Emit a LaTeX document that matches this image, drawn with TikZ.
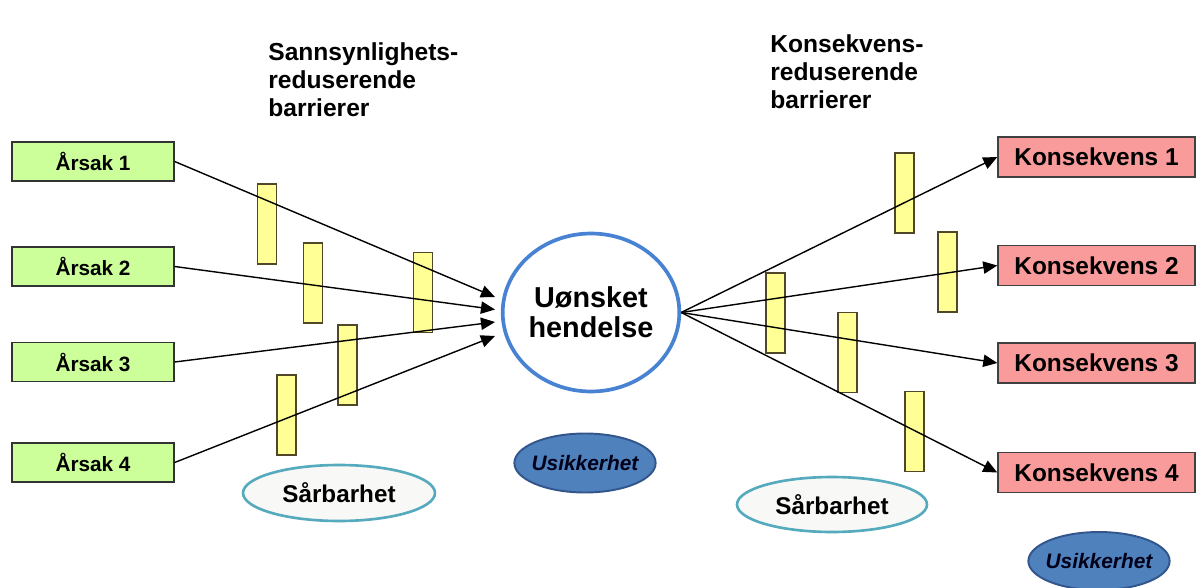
\documentclass[tikz,border=0pt]{standalone}
\usepackage{fontspec}
\setmainfont{Liberation Sans}
\usetikzlibrary{shapes.geometric, arrows.meta}
\definecolor{causeGreen}{RGB}{204,255,153}
\definecolor{effectRed}{RGB}{250,155,155}
\definecolor{barYellow}{RGB}{255,255,150}
\definecolor{barEdge}{RGB}{80,70,40}
\definecolor{eventBlue}{RGB}{72,130,210}
\definecolor{doubtBlue}{RGB}{79,129,189}
\definecolor{doubtEdge}{RGB}{50,85,140}
\definecolor{weakEdge}{RGB}{85,170,190}
\definecolor{weakFill}{RGB}{248,248,246}
\newcommand*{\barrier}[3]{\node[barrier] (#1) at (#2,#3) {};}% name, x, y (pixels from top left)
\newcommand*{\cause}[3]{\node[causebox] (#1) at (93,#2) {#3};}% name, y, text
\newcommand*{\effect}[3]{\node[effectbox] (#1) at (1096.5,#2) {#3};}% name, y, text

\begin{document}
\begin{tikzpicture}[x=0.02cm, y=-0.02cm,
    causebox/.style={draw=black!80, line width=0.8pt, fill=causeGreen, minimum width=3.24cm, minimum height=0.78cm, inner sep=0pt, font=\fontsize{11.8}{14}\selectfont\bfseries},
    effectbox/.style={draw=black!75, line width=0.8pt, fill=effectRed, minimum width=3.94cm, minimum height=0.8cm, inner sep=0pt, font=\fontsize{13.9}{16}\selectfont\bfseries},
    barrier/.style={draw=barEdge, line width=0.75pt, fill=barYellow, minimum width=0.38cm, minimum height=1.6cm, inner sep=0pt},
    weakness/.style={ellipse, draw=weakEdge, line width=1.5pt, fill=weakFill, inner sep=0pt, font=\fontsize{13.8}{16}\selectfont\bfseries},
    doubt/.style={ellipse, draw=doubtEdge, line width=1.1pt, fill=doubtBlue, inner xsep=-2pt, inner ysep=0pt, text=black!90!blue, font=\fontsize{11.9}{14}\selectfont\bfseries\itshape},
    heading/.style={anchor=north west, align=left, inner sep=0pt, font=\fontsize{14}{15.9}\selectfont\bfseries},
    link/.style={line width=0.8pt, -{Triangle[length=8pt, width=7pt]}}]
\useasboundingbox (0,0) rectangle (1200,588);
% headings
\node[heading] (hLeft) at (268,42) {Sannsynlighets-\\reduserende\\barrierer};
\node[heading] (hRight) at (770,34) {Konsekvens-\\reduserende\\barrierer};
% causes and consequences
\cause{c1}{161.5}{Årsak 1}
\cause{c2}{266.5}{Årsak 2}
\cause{c3}{362}{Årsak 3}
\cause{c4}{462.5}{Årsak 4}
\effect{k1}{157}{Konsekvens 1}
\effect{k2}{265.5}{Konsekvens 2}
\effect{k3}{363}{Konsekvens 3}
\effect{k4}{472.5}{Konsekvens 4}
% top event
\node[ellipse, draw=eventBlue, line width=2.1pt, fill=white, minimum width=3.42cm, minimum height=3.16cm, inner sep=0pt, font=\fontsize{16.4}{17}\selectfont\bfseries, align=center] (ev) at (591,312.5) {Uønsket\\hendelse};
\coordinate (t1) at (495,297);
\coordinate (t2) at (495,309.5);
\coordinate (t3) at (495,322);
\coordinate (t4) at (495,336);
\coordinate (src) at (ev.east);
% barriers
\barrier{b1}{267}{224}
\barrier{b2}{313}{283}
\barrier{b3}{423}{292.5}
\barrier{b4}{347.5}{365}
\barrier{b5}{286.5}{415}
\barrier{b6}{904.5}{193}
\barrier{b7}{947.5}{272}
\barrier{b8}{775.5}{313}
\barrier{b9}{847.5}{352.5}
\barrier{b10}{914.5}{431.5}
% links
\draw[link] (c1.east) -- (t1);
\draw[link] (c2.east) -- (t2);
\draw[link] (c3.east) -- (t3);
\draw[link] (c4.east) -- (t4);
\draw[link] (src) -- (k1.west);
\draw[link] (src) -- (k2.west);
\draw[link] (src) -- (k3.west);
\draw[link] (src) -- (k4.west);
% vulnerability and uncertainty
\node[weakness, minimum width=3.84cm, minimum height=1.12cm] (w1) at (339,493) {Sårbarhet};
\node[weakness, minimum width=3.8cm, minimum height=1.1cm] (w2) at (832,504.5) {Sårbarhet};
\node[doubt, minimum width=2.76cm, minimum height=1.18cm] (u1) at (585,463) {Usikkerhet};
\node[doubt, minimum width=2.8cm, minimum height=1.16cm] (u2) at (1099,561) {Usikkerhet};
\end{tikzpicture}
\end{document}
